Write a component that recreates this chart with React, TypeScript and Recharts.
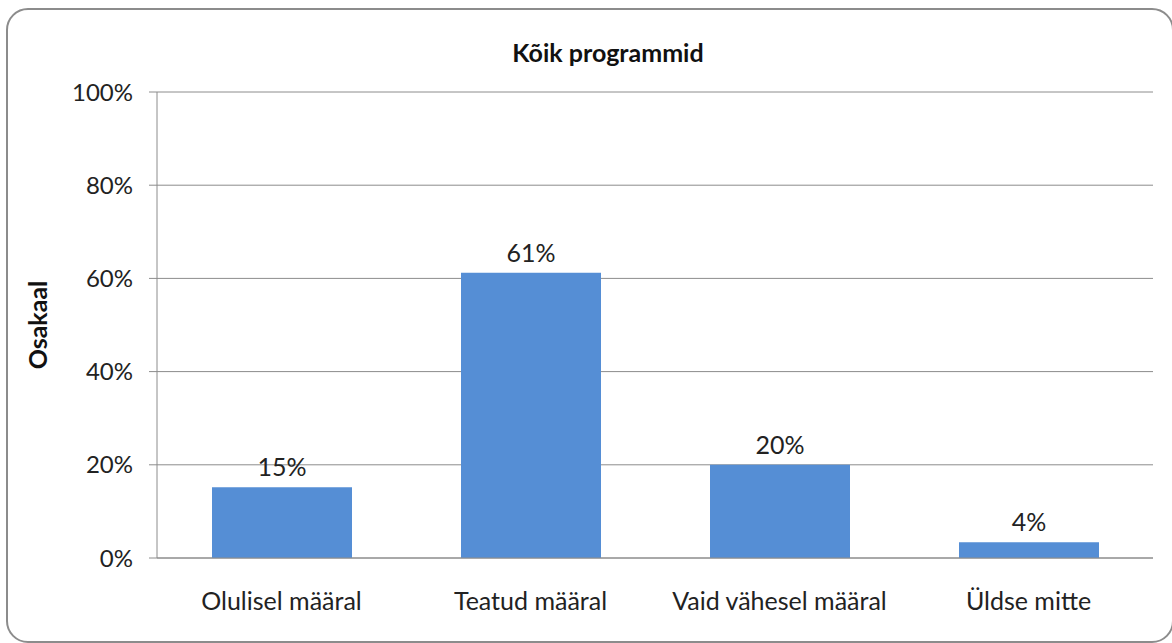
import React from 'react';
import { BarChart, Bar, XAxis, YAxis, CartesianGrid, LabelList } from 'recharts';

const categories = ['Olulisel määral', 'Teatud määral', 'Vaid vähesel määral', 'Üldse mitte'];
const shares = [15.2, 61.2, 20.0, 3.4];
const shareLabels = ['15%', '61%', '20%', '4%'];
const yTicks = [0, 20, 40, 60, 80, 100];

const data = categories.map((name, i) => ({ name, value: shares[i], label: shareLabels[i] }));

const FONT = 'Lato, "Open Sans", sans-serif';

export default function App() {
    return (
        <div style={{ position: 'fixed', left: 0, top: 0, width: 1172, height: 643, background: '#fff', fontFamily: FONT }}>
            <div
                style={{
                    position: 'absolute',
                    left: 6,
                    top: 8,
                    width: 1164,
                    height: 631,
                    border: '2px solid #8c8c8c',
                    borderRadius: 22,
                }}
            />
            <div
                style={{
                    position: 'absolute',
                    left: 408,
                    width: 400,
                    top: 36,
                    textAlign: 'center',
                    fontWeight: 700,
                    fontSize: 25,
                    color: '#111',
                    lineHeight: '32px',
                }}
            >
                Kõik programmid
            </div>
            <div
                style={{
                    position: 'absolute',
                    left: 37 - 60,
                    top: 325 - 16,
                    width: 120,
                    height: 32,
                    lineHeight: '32px',
                    textAlign: 'center',
                    transform: 'rotate(-90deg)',
                    fontWeight: 700,
                    fontSize: 25,
                    color: '#111',
                }}
            >
                Osakaal
            </div>
            <BarChart
                width={1172}
                height={643}
                data={data}
                margin={{ top: 92, right: 19, bottom: 55, left: 97 }}
                style={{ position: 'absolute', left: 0, top: 0 }}
            >
                <CartesianGrid vertical={false} stroke="#8c8c8c" strokeWidth={1} />
                <XAxis
                    dataKey="name"
                    height={30}
                    axisLine={{ stroke: '#8c8c8c' }}
                    tickLine={false}
                    tickSize={0}
                    tickMargin={34}
                    tick={{ fill: '#222', fontSize: 25, fontFamily: FONT }}
                    interval={0}
                />
                <YAxis
                    width={60}
                    domain={[0, 100]}
                    ticks={yTicks}
                    tickFormatter={(v) => `${v}%`}
                    axisLine={{ stroke: '#8c8c8c' }}
                    tickLine={{ stroke: '#8c8c8c' }}
                    tickSize={8}
                    tickMargin={16}
                    tick={{ fill: '#222', fontSize: 24, fontFamily: FONT }}
                />
                <Bar dataKey="value" fill="#558ED5" barSize={140} isAnimationActive={false}>
                    <LabelList
                        dataKey="label"
                        position="top"
                        offset={11}
                        style={{ fill: '#222', fontSize: 25, fontFamily: FONT }}
                    />
                </Bar>
            </BarChart>
        </div>
    );
}
